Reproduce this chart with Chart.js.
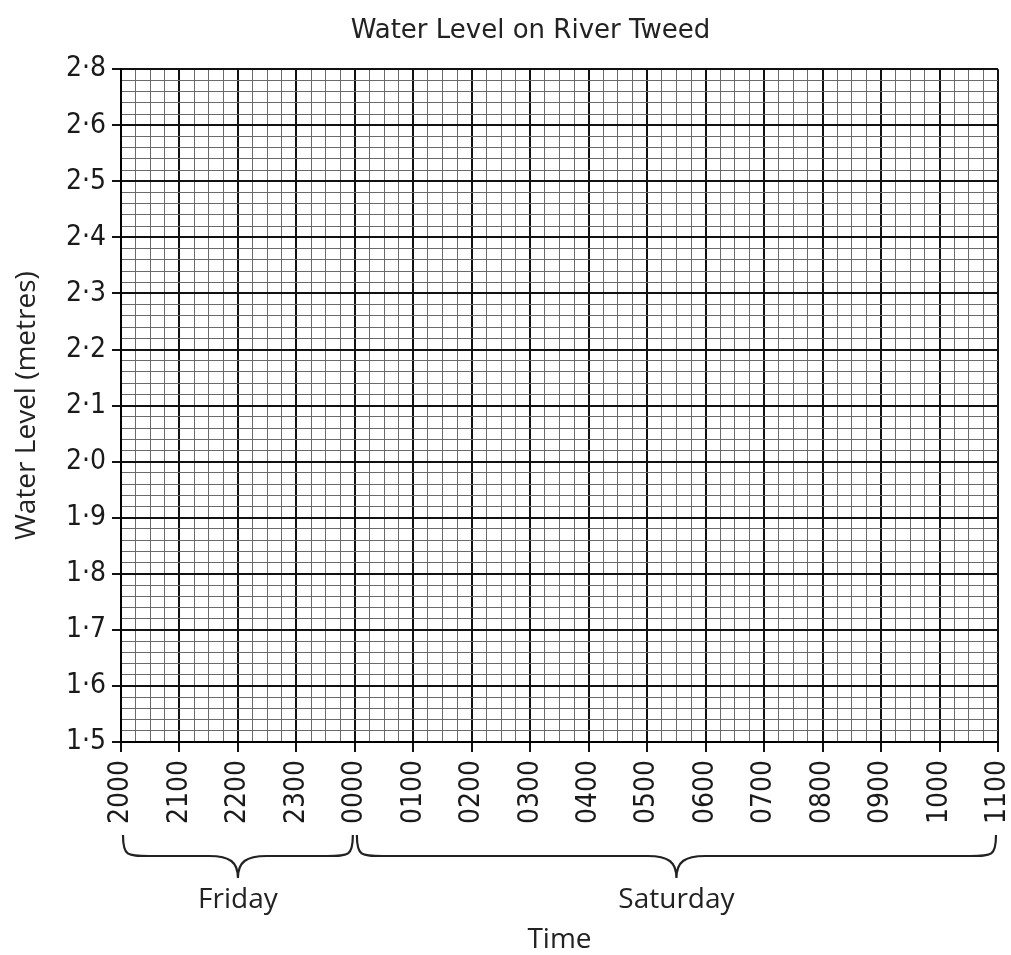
<!DOCTYPE html>
<html>
<head>
<meta charset="utf-8">
<script src="https://cdn.jsdelivr.net/npm/chart.js@4/dist/chart.umd.min.js"></script>
<style>
  html, body { margin: 0; padding: 0; background: #fff; }
  #wrap { width: 1011px; height: 955px; }
</style>
</head>
<body>
<div id="wrap"><canvas id="chart-js"></canvas></div>
<script>
// hours after 2000 on Friday, one label per hour
const xLabels = ['2000', '2100', '2200', '2300', '0000', '0100', '0200', '0300',
                 '0400', '0500', '0600', '0700', '0800', '0900', '1000', '1100'];
// y labels as printed (top one reads 2·8 on the original sheet)
const yLabels = ['1·5', '1·6', '1·7', '1·8', '1·9', '2·0', '2·1', '2·2',
                 '2·3', '2·4', '2·5', '2·6', '2·8'];
const days = ['Friday', 'Saturday'];
const dayBounds = [0, 4, 15];
// no readings plotted on the blank grid
const levels = [];

const tickFont = { family: 'DejaVu Sans Condensed', size: 28 };
const labelFont = { family: 'Open Sans', size: 28 };

const isMajorX = ctx => ctx.index % 4 === 0;
const isMajorY = ctx => ctx.index % 5 === 0;

const bracePlugin = {
    id: 'braces',
    afterLayout(chart) {
        // the printed title sits a little left of the page centre
        if (chart.titleBlock) chart.titleBlock.left = 50;
    },
    afterDraw(chart) {
        const ctx = chart.ctx;
        const x = chart.scales.x;
        const yTop = 835, yH = 856, yTip = 878, r = 18;
        ctx.save();
        ctx.strokeStyle = '#222';
        ctx.lineWidth = 2.2;
        ctx.fillStyle = '#222';
        ctx.font = '28px "Open Sans"';
        ctx.textAlign = 'center';
        ctx.textBaseline = 'alphabetic';
        for (let i = 0; i < days.length; i++) {
            const x0 = x.getPixelForValue(dayBounds[i]) + 2;
            const x1 = x.getPixelForValue(dayBounds[i + 1]) - 2;
            const xm = (x0 + x1) / 2;
            ctx.beginPath();
            ctx.moveTo(x0, yTop);
            ctx.bezierCurveTo(x0, yH, x0 + 4, yH, x0 + r + 8, yH);
            ctx.lineTo(xm - r * 1.6, yH);
            ctx.bezierCurveTo(xm - 8, yH, xm, yH + 6, xm, yTip);
            ctx.bezierCurveTo(xm, yH + 6, xm + 8, yH, xm + r * 1.6, yH);
            ctx.lineTo(x1 - r - 8, yH);
            ctx.bezierCurveTo(x1 - 4, yH, x1, yH, x1, yTop);
            ctx.stroke();
            ctx.fillText(days[i], xm, 908);
        }
        ctx.restore();
    }
};

new Chart(document.getElementById('chart-js').getContext('2d'), {
    type: 'line',
    data: {
        datasets: [{
            label: 'Water Level',
            data: levels,
            borderColor: '#000',
            pointRadius: 3
        }]
    },
    options: {
        responsive: true,
        maintainAspectRatio: false,
        animation: false,
        layout: { padding: 0 },
        plugins: {
            legend: { display: false },
            tooltip: { enabled: false },
            title: {
                display: true,
                text: 'Water Level on River Tweed',
                color: '#222',
                font: { family: 'DejaVu Sans', size: 26, weight: 'normal' },
                padding: { top: 16, bottom: 22 }
            }
        },
        scales: {
            x: {
                type: 'linear',
                min: 0,
                max: 15,
                border: { color: '#000', width: 2 },
                grid: {
                    color: ctx => isMajorX(ctx) ? '#111' : '#6a6a6a',
                    lineWidth: ctx => isMajorX(ctx) ? 2 : 1,
                    tickLength: 10,
                    tickColor: ctx => isMajorX(ctx) ? '#111' : 'rgba(0,0,0,0)',
                    tickWidth: 2
                },
                ticks: {
                    stepSize: 0.25,
                    autoSkip: false,
                    minRotation: 90,
                    maxRotation: 90,
                    padding: 8,
                    color: '#1a1a1a',
                    font: tickFont,
                    callback: (v, i) => i % 4 === 0 ? xLabels[i / 4] : ''
                },
                title: {
                    display: true,
                    text: 'Time',
                    color: '#222',
                    font: labelFont,
                    padding: { top: 0, bottom: -2 }
                },
                afterFit: s => {
                    s.height = 213;
                    s.paddingLeft = 0;
                    s.paddingRight = 13;
                }
            },
            y: {
                min: 1.5,
                max: 2.7,
                border: { color: '#000', width: 2 },
                grid: {
                    color: ctx => isMajorY(ctx) ? '#111' : '#6a6a6a',
                    lineWidth: ctx => isMajorY(ctx) ? 2 : 1,
                    tickLength: 9,
                    tickColor: ctx => isMajorY(ctx) ? '#111' : 'rgba(0,0,0,0)',
                    tickWidth: 2
                },
                ticks: {
                    stepSize: 0.02,
                    autoSkip: false,
                    padding: 6,
                    color: '#1a1a1a',
                    font: tickFont,
                    callback: (v, i) => i % 5 === 0 ? yLabels[i / 5] : ''
                },
                title: {
                    display: true,
                    text: 'Water Level (metres)',
                    color: '#222',
                    font: labelFont,
                    padding: { top: 10, bottom: 0 }
                },
                afterFit: s => {
                    s.width = 121;
                    s.paddingTop = 0;
                    s.paddingBottom = 0;
                }
            }
        }
    },
    plugins: [bracePlugin]
});
</script>
</body>
</html>
